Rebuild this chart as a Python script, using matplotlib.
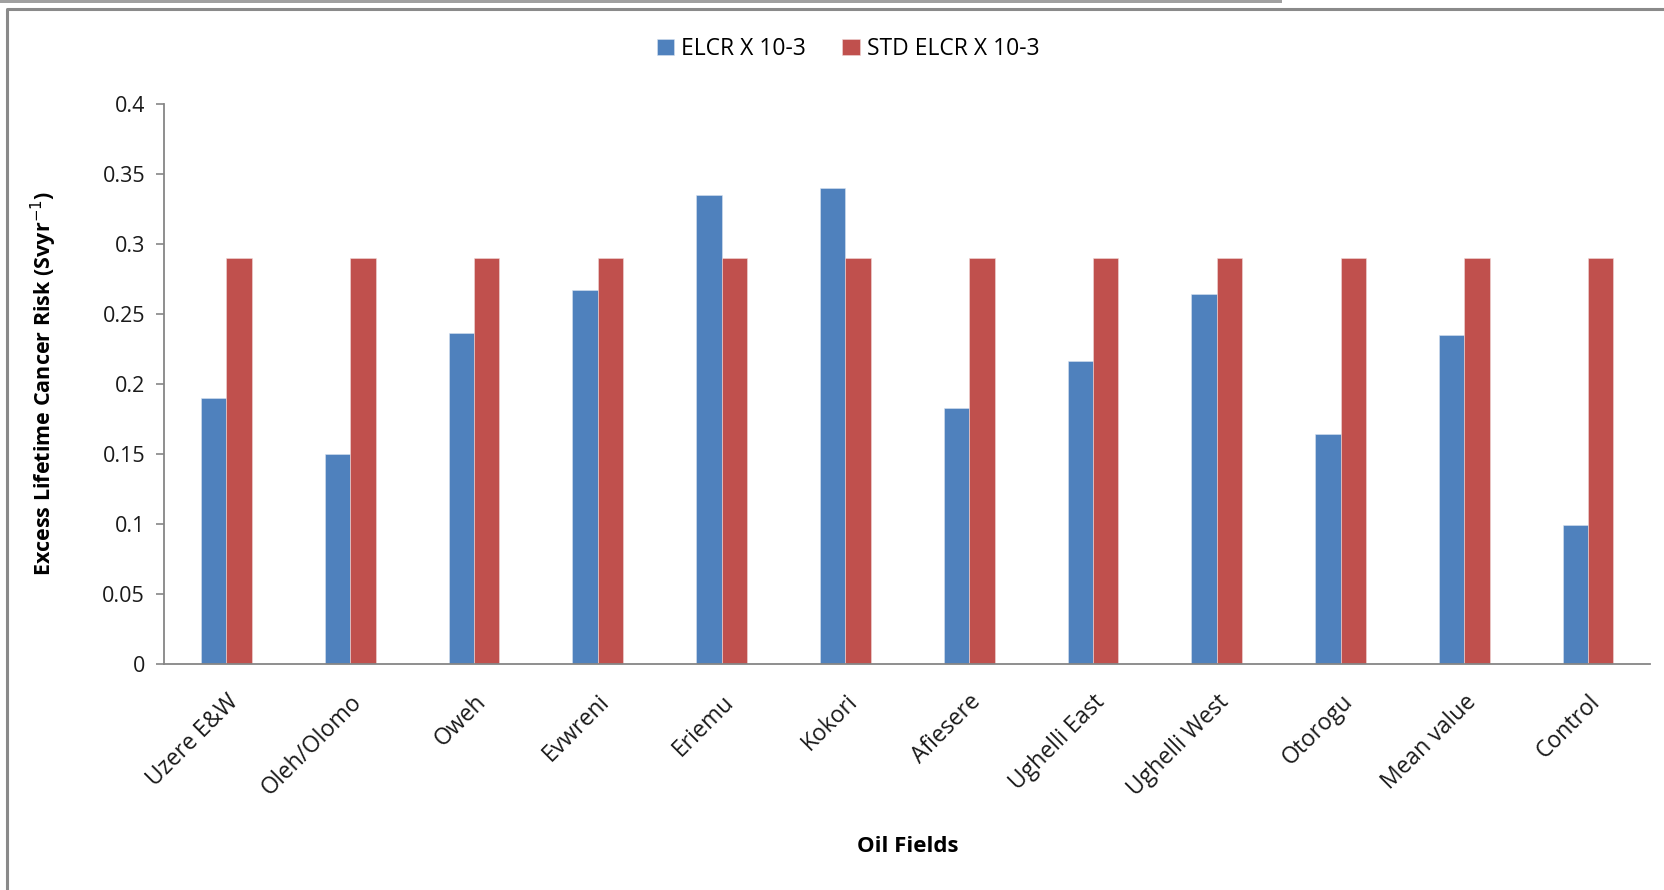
import matplotlib
matplotlib.use("Agg")
import matplotlib.pyplot as plt
from matplotlib.patches import Rectangle
from matplotlib.lines import Line2D
import numpy as np

plt.rcParams['font.family'] = ['Open Sans', 'DejaVu Sans']

fields = ["Uzere E&W", "Oleh/Olomo", "Oweh", "Evwreni", "Eriemu", "Kokori",
          "Afiesere", "Ughelli East", "Ughelli West", "Otorogu", "Mean value", "Control"]
elcr = [0.19, 0.15, 0.236, 0.267, 0.335, 0.34, 0.183, 0.216, 0.264, 0.164, 0.235, 0.099]
std_elcr = [0.29] * 12
yticks = [0, 0.05, 0.1, 0.15, 0.2, 0.25, 0.3, 0.35, 0.4]
ytick_labels = ["0", "0.05", "0.1", "0.15", "0.2", "0.25", "0.3", "0.35", "0.4"]

W, H = 1665, 890
AX_L, AX_R = 164.5, 1650
fig = plt.figure(figsize=(W / 100, H / 100), dpi=100)
ax = fig.add_axes([AX_L / W, 1 - 663.5 / H, (AX_R - AX_L) / W, (663.5 - 104) / H])

x = np.arange(len(fields))
bw = 0.205
ax.bar(x - bw / 2, elcr, bw, color="#4F81BD", edgecolor="#d8e2f0", linewidth=0.4,
       label="ELCR X 10-3")
ax.bar(x + bw / 2, std_elcr, bw, color="#C0504D", edgecolor="#f0d8d8", linewidth=0.4,
       label="STD ELCR X 10-3")

ax.set_xlim(-0.5, len(fields) - 0.5)
ax.set_ylim(0, 0.4)
ax.set_yticks(yticks)
ax.set_yticklabels(ytick_labels)
ax.set_xticks(x)
ax.set_xticklabels(fields, rotation=45, ha="right", rotation_mode="anchor")

for s in ["top", "right"]:
    ax.spines[s].set_visible(False)
for s in ["left", "bottom"]:
    ax.spines[s].set_color("#868686")
    ax.spines[s].set_linewidth(1.3)

ax.tick_params(axis="y", direction="out", length=6, width=1.2, color="#868686",
               labelsize=15.5, pad=8, labelcolor="#1a1a1a")
ax.tick_params(axis="x", length=0, labelsize=16.5, pad=19, labelcolor="#1a1a1a")

ax.set_ylabel("Excess Lifetime Cancer Risk (Svyr$^{-1}$)", fontsize=15.5,
              fontweight="bold", labelpad=12)
ax.yaxis.set_label_coords(-(AX_L - 59) / (AX_R - AX_L), 0.5)
fig.text(908 / W, 1 - 846 / H, "Oil Fields", fontsize=16, fontweight="bold",
         ha="center", va="center")

fig.legend(loc="center", bbox_to_anchor=(848 / W, 1 - 49 / H), ncol=2, frameon=False,
           fontsize=16.5, handlelength=0.75, handleheight=0.75, handletextpad=0.3,
           columnspacing=1.6)

# Surrounding chart frame
fig.patches.append(Rectangle((0, 1 - 3 / H), 1282 / W, 3 / H, transform=fig.transFigure,
                             facecolor="#a0a0a0", edgecolor="none"))
fig.lines.append(Line2D([7 / W, 7 / W, 1.0], [0.0, 1 - 9 / H, 1 - 9 / H],
                        transform=fig.transFigure, color="#8a8a8a", linewidth=2.2))

fig.savefig("out.png", dpi=100, facecolor="white")
